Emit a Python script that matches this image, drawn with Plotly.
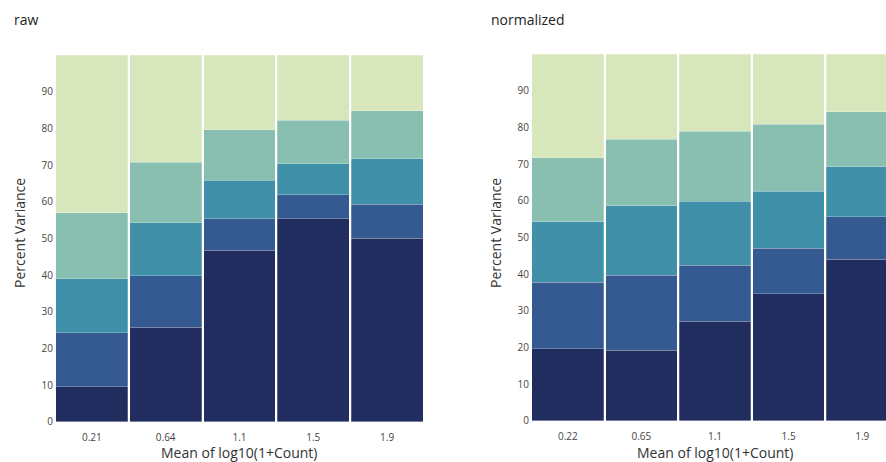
import plotly.graph_objects as go

# ---------------- data ----------------
raw_ticks = ["0.21", "0.64", "1.1", "1.5", "1.9"]
norm_ticks = ["0.22", "0.65", "1.1", "1.5", "1.9"]
positions = [0, 1, 2, 3, 4]

component_names = ["Component 1", "Component 2", "Component 3", "Component 4", "Component 5"]

# raw percent variance per component (stacked bottom -> top)
raw_c1 = [9.6, 25.7, 46.7, 55.4, 50.0]
raw_c2 = [14.6, 14.1, 8.7, 6.5, 9.3]
raw_c3 = [14.8, 14.5, 10.5, 8.5, 12.4]
raw_c4 = [18.0, 16.4, 13.7, 11.8, 13.1]
raw_c5 = [43.0, 29.3, 20.4, 17.8, 15.2]

# normalized percent variance per component
norm_c1 = [19.6, 19.2, 27.1, 34.6, 44.0]
norm_c2 = [18.2, 20.5, 15.3, 12.4, 11.6]
norm_c3 = [16.4, 18.9, 17.5, 15.6, 13.7]
norm_c4 = [17.5, 18.1, 19.0, 18.2, 14.9]
norm_c5 = [28.3, 23.3, 21.1, 19.2, 15.8]

y_ticks = [0, 10, 20, 30, 40, 50, 60, 70, 80, 90]

colors = ["#212c5f", "#355a91", "#4190a9", "#88bfb1", "#d8e6bc"]

# ---------------- figure ----------------
W, H = 886, 462
FONT = "Open Sans"

fig = go.Figure()

raw_series = [raw_c1, raw_c2, raw_c3, raw_c4, raw_c5]
norm_series = [norm_c1, norm_c2, norm_c3, norm_c4, norm_c5]

for name, vals, col in zip(component_names, raw_series, colors):
    fig.add_trace(go.Bar(x=positions, y=vals, name=name, marker=dict(color=col,
                         line=dict(color="rgba(255,255,255,0.35)", width=0.7)),
                         xaxis="x", yaxis="y", showlegend=False))
for name, vals, col in zip(component_names, norm_series, colors):
    fig.add_trace(go.Bar(x=positions, y=vals, name=name, marker=dict(color=col,
                         line=dict(color="rgba(255,255,255,0.35)", width=0.7)),
                         xaxis="x2", yaxis="y2", showlegend=False))

def px_x(p):
    return p / W

def px_y(p):
    return 1 - p / H

# left plot: x 55..424, y 55..421.7 ; right plot: x 531..899 (clipped at 886), y 54..420.7
right_full_end = 899.0
right_start = 531.0
bar_w = (right_full_end - right_start) / 5
visible_hi = -0.5 + (886 - right_start) / bar_w

tickfont = dict(family=FONT, size=10, color="#444444")

axis_common = dict(showgrid=False, zeroline=False, showline=False, ticks="",
                   tickfont=tickfont, automargin=False, fixedrange=True)

fig.update_layout(
    width=W, height=H,
    margin=dict(l=0, r=0, t=0, b=0),
    paper_bgcolor="white", plot_bgcolor="white",
    barmode="stack", bargap=0.025,
    font=dict(family=FONT, color="#333333"),
    xaxis=dict(domain=[px_x(55), px_x(424)], range=[-0.5, 4.5], tickvals=positions,
               ticktext=raw_ticks, anchor="y", ticklabelstandoff=8, **axis_common),
    yaxis=dict(domain=[px_y(421.7), px_y(55)], range=[0, 100], tickvals=y_ticks,
               anchor="x", ticklabelstandoff=1, **axis_common),
    xaxis2=dict(domain=[px_x(right_start), 1.0], range=[-0.5, visible_hi], tickvals=positions,
                ticktext=norm_ticks, anchor="y2", ticklabelstandoff=8, **axis_common),
    yaxis2=dict(domain=[px_y(420.7), px_y(54)], range=[0, 100], tickvals=y_ticks,
                anchor="x2", ticklabelstandoff=1, **axis_common),
)

title_font = dict(family=FONT, size=14, color="#222222")
axtitle_font = dict(family=FONT, size=14, color="#333333")

annotations = [
    dict(text="raw", x=px_x(12), y=px_y(20), xref="paper", yref="paper",
         xanchor="left", yanchor="middle", showarrow=False, font=title_font),
    dict(text="normalized", x=px_x(489), y=px_y(20), xref="paper", yref="paper",
         xanchor="left", yanchor="middle", showarrow=False, font=title_font),
    dict(text="Percent Variance", x=px_x(20), y=px_y(233), xref="paper", yref="paper",
         xanchor="center", yanchor="middle", textangle=-90, showarrow=False, font=axtitle_font),
    dict(text="Percent Variance", x=px_x(496), y=px_y(233), xref="paper", yref="paper",
         xanchor="center", yanchor="middle", textangle=-90, showarrow=False, font=axtitle_font),
    dict(text="Mean of log10(1+Count)", x=px_x(239.5), y=px_y(452), xref="paper", yref="paper",
         xanchor="center", yanchor="middle", showarrow=False, font=axtitle_font),
    dict(text="Mean of log10(1+Count)", x=px_x((right_start + right_full_end) / 2), y=px_y(452),
         xref="paper", yref="paper", xanchor="center", yanchor="middle", showarrow=False,
         font=axtitle_font),
]
fig.update_layout(annotations=annotations)

fig.write_html("out.html", config={"displayModeBar": False})
